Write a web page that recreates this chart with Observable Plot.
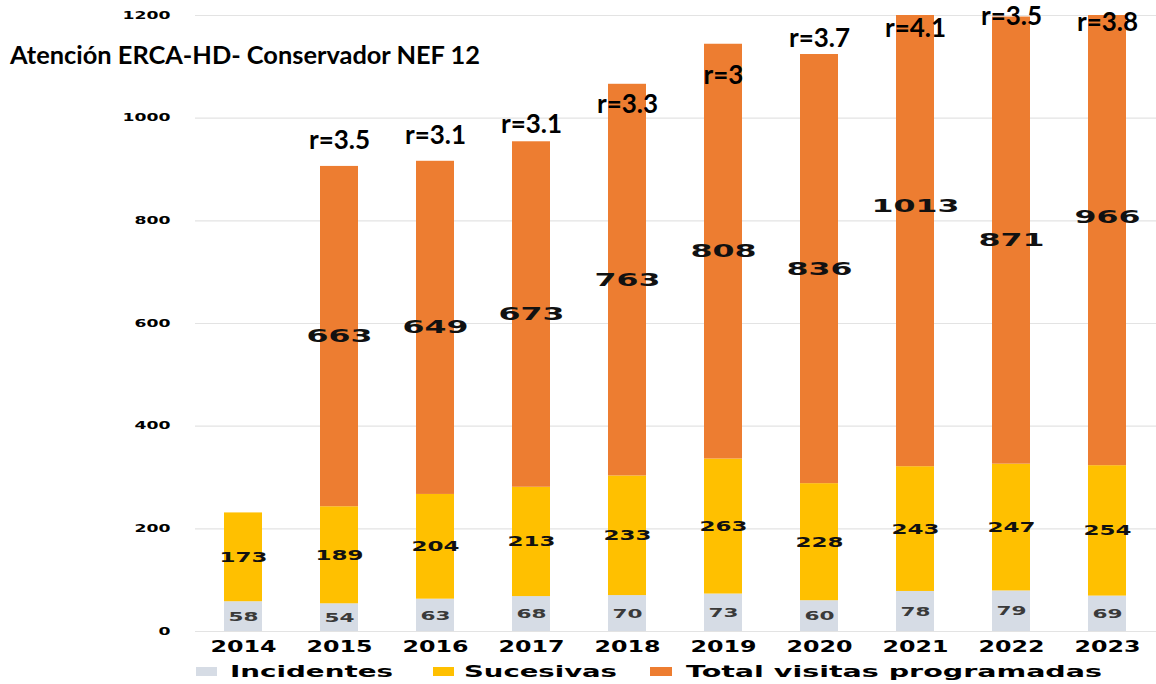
<!DOCTYPE html>
<html><head><meta charset="utf-8">
<script src="https://cdn.jsdelivr.net/npm/d3@7"></script>
<script src="https://cdn.jsdelivr.net/npm/@observablehq/plot@0.6"></script>
<style>
body{margin:0;background:#fff;}
#wrap{position:relative;width:1156px;height:684px;overflow:hidden;}
#wrap svg{position:absolute;left:0;}
</style>
</head><body><div id="wrap"></div>
<script>
// ---- data ----
const title = "Atención ERCA-HD- Conservador NEF 12";
const years = ["2014","2015","2016","2017","2018","2019","2020","2021","2022","2023"];
const series = ["Incidentes","Sucesivas","Total visitas programadas"];
const colors = ["#d6dce5","#ffc000","#ed7d31"];
const incidentes = [58,54,63,68,70,73,60,78,79,69];
const sucesivas = [173,189,204,213,233,263,228,243,247,254];
const programadas = [0,663,649,673,763,808,836,1013,871,966];
const rLabels = [null,"r=3.5","r=3.1","r=3.1","r=3.3","r=3","r=3.7","r=4.1","r=3.5","r=3.8"];
const rAnchor = [null,956,966,988,1027,1083,1155,1175,1198,1186]; // y value where each r label sits
const yTicks = [0,200,400,600,800,1000,1200];

// ---- build table ----
const values = [incidentes, sucesivas, programadas];
const table = [];
years.forEach((yr, i) => {
  let base = 0;
  series.forEach((s, k) => {
    const v = values[k][i];
    table.push({year: yr, series: s, k, value: v, y1: base, y2: base + v, mid: base + v / 2});
    base += v;
  });
});
const rData = years.map((yr, i) => ({year: yr, r: rLabels[i], y: rAnchor[i]})).filter(d => d.r);

const labelFont = "DejaVu Sans";
const labelStyles = [
  {fontSize: 13, fill: "#3a3a3a", perChar: 15},
  {fontSize: 14, fill: "#111", perChar: 16},
  {fontSize: 17, fill: "#111", perChar: 22}
];

const chart = Plot.plot({
  width: 1156,
  height: 660,
  marginTop: 15,
  marginBottom: 29,
  marginLeft: 195,
  marginRight: 0,
  style: {background: "transparent", overflow: "visible"},
  x: {domain: years, paddingInner: 0.6, paddingOuter: 0.3, label: null},
  y: {domain: [0, 1200], label: null},
  color: {domain: series, range: colors},
  marks: [
    Plot.ruleY(yTicks, {stroke: "#e3e3e3", strokeWidth: 1.2}),
    Plot.barY(table.filter(d => d.value > 0), {x: "year", y1: "y1", y2: "y2", fill: "series", clip: true}),
    ...series.map((s, k) => Plot.text(table.filter(d => d.k === k && d.value > 0), {
      x: "year", y: "mid", text: d => String(d.value),
      fontSize: labelStyles[k].fontSize, fontWeight: "bold", fontFamily: labelFont,
      fill: labelStyles[k].fill
    })),
    Plot.text(rData, {x: "year", y: "y", text: "r", fontSize: 26, fontWeight: "bold", fontFamily: "Lato", fill: "#000"}),
    Plot.axisY({ticks: yTicks, tickSize: 0, tickPadding: 25, fontSize: 10, fontWeight: "bold", fontFamily: labelFont, tickFormat: d => String(d), label: null}),
    Plot.axisX({tickSize: 0, tickPadding: 10, fontSize: 15, fontWeight: "bold", fontFamily: labelFont, label: null})
  ]
});
chart.style.top = "0px";
document.getElementById("wrap").appendChild(chart);

function stretchNodes(nodes, perChar) {
  nodes.forEach(t => {
    const n = t.textContent.length;
    t.setAttribute("textLength", n * perChar);
    t.setAttribute("lengthAdjust", "spacingAndGlyphs");
  });
}
stretchNodes(chart.querySelectorAll('g[aria-label="y-axis tick label"] text'), 12);
stretchNodes(chart.querySelectorAll('g[aria-label="x-axis tick label"] text'), 16.5);
const textGroups = chart.querySelectorAll('g[aria-label="text"]');
for (let k = 0; k < 3 && k < textGroups.length; k++) {
  stretchNodes(textGroups[k].querySelectorAll("text"), labelStyles[k].perChar);
}
chart.querySelectorAll('g[aria-label="y-axis tick label"] text, g[aria-label="x-axis tick label"] text').forEach(t => t.setAttribute("fill", "#000"));

// ---- title overlay ----
const wrap = d3.select("#wrap");
const tsvg = wrap.append("svg").attr("width", 500).attr("height", 80).style("top", "0px");
tsvg.append("text").attr("x", 10).attr("y", 64)
  .attr("font-family", "Lato").attr("font-weight", "bold").attr("font-size", 25)
  .attr("textLength", 470).attr("lengthAdjust", "spacingAndGlyphs").attr("fill", "#000")
  .text(title);

// ---- legend ----
const lsvg = wrap.append("svg").attr("width", 1156).attr("height", 28).style("top", "656px");
const legendPos = [
  {sx: 196, sw: 21, tx: 230, tw: 163},
  {sx: 433, sw: 21, tx: 464, tw: 153},
  {sx: 650, sw: 22, tx: 686, tw: 416}
];
series.forEach((s, k) => {
  const p = legendPos[k];
  lsvg.append("rect").attr("x", p.sx).attr("y", 11).attr("width", p.sw).attr("height", 9).attr("fill", colors[k]);
  lsvg.append("text").attr("x", p.tx).attr("y", 21)
    .attr("font-family", labelFont).attr("font-weight", "bold").attr("font-size", 16)
    .attr("textLength", p.tw).attr("lengthAdjust", "spacingAndGlyphs").attr("fill", "#000")
    .text(s);
});
</script>
</body></html>
